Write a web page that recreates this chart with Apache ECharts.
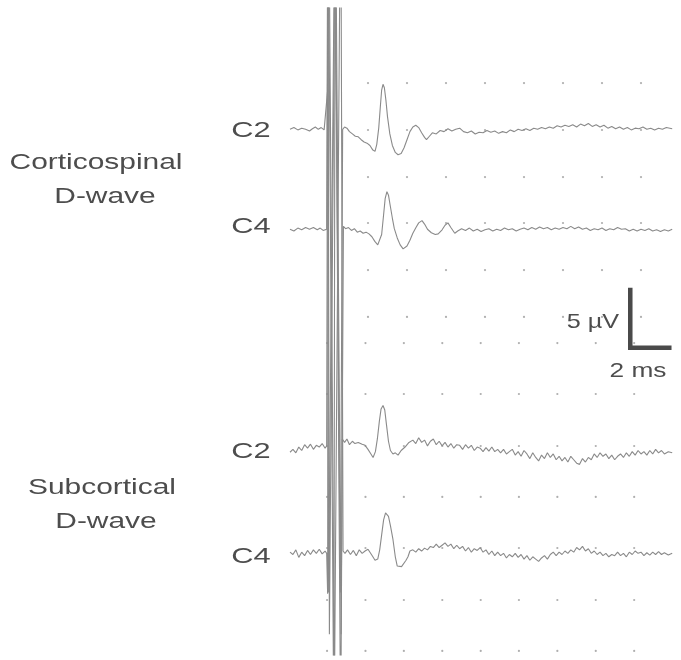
<!DOCTYPE html>
<html><head><meta charset="utf-8">
<script src="https://cdn.jsdelivr.net/npm/echarts@6/dist/echarts.min.js"></script>
<style>html,body{margin:0;padding:0;background:#fff}#c{width:681px;height:660px}</style>
</head><body><div id="c"></div>
<script>
// ---- DATA (time in ms relative to stimulus, amplitude in µV relative to each trace's baseline) ----
const traceNames = ['Corticospinal C2', 'Corticospinal C4', 'Subcortical C2', 'Subcortical C4'];
const corticoC2 = [[-2.0,0.1],[-1.8,0.25],[-1.6,0.05],[-1.4,0.2],[-1.2,0.1],[-1.0,-0.05],[-0.85,0.15],[-0.7,0.3],[-0.55,0.1],[-0.4,0.25],[-0.25,0.05],[-0.15,0.1],
[-0.08,3.3],[-0.02,-40],[0.3,20],[0.58,-40],[0.7,0.1],[0.8,0.3],[0.92,0.2],[1.05,-0.1],[1.2,-0.3],[1.35,-0.5],[1.5,-0.55],[1.65,-0.8],[1.8,-1.0],[1.95,-1.1],[2.1,-1.3],[2.25,-1.7],[2.36,-1.8],[2.45,-1.2],[2.55,0.2],[2.63,2.0],[2.7,3.5],[2.77,4.0],[2.84,3.7],[2.92,2.6],[3.0,1.2],[3.12,-0.3],[3.25,-1.3],[3.4,-1.9],[3.54,-2.1],[3.7,-2.0],[3.85,-1.5],[4.0,-0.8],[4.15,-0.1],[4.3,0.3],[4.45,0.45],[4.6,0.25],[4.75,-0.2],[4.9,-0.6],[5.0,-0.8],[5.15,-0.5],[5.3,-0.2],[5.5,-0.3],[5.7,0.0],[5.9,-0.1],[6.1,0.15],[6.3,-0.05],[6.5,0.1],[6.7,0.2],[6.9,-0.1],[7.1,-0.2],[7.3,-0.05],[7.5,-0.3],[7.7,-0.15],[7.9,-0.2],[8.1,0.0],[8.3,-0.15],[8.5,-0.05],[8.7,-0.25],[8.9,-0.1],[9.1,-0.2],[9.3,0.05],[9.5,-0.1],[9.7,0.1],[9.9,0.0],[10.1,0.15],[10.3,0.0],[10.5,0.2],[10.7,0.1],[10.9,0.25],[11.1,0.15],[11.3,0.3],[11.5,0.2],[11.7,0.4],[11.9,0.3],[12.1,0.45],[12.3,0.35],[12.5,0.5],[12.7,0.3],[12.9,0.55],[13.1,0.4],[13.3,0.6],[13.5,0.35],[13.7,0.5],[13.9,0.3],[14.1,0.45],[14.3,0.2],[14.5,0.35],[14.7,0.15],[14.9,0.3],[15.1,0.1],[15.3,0.25],[15.5,0.05],[15.7,0.2],[15.9,0.15],[16.1,0.3],[16.3,0.1],[16.5,0.2],[16.7,0.05],[16.9,0.2],[17.1,0.1],[17.3,0.25],[17.6,0.15]];
const corticoC4 = [[-2.0,0.05],[-1.8,-0.1],[-1.6,0.15],[-1.4,0.0],[-1.2,0.2],[-1.0,0.05],[-0.8,0.2],[-0.6,0.0],[-0.45,0.15],[-0.3,-0.05],[-0.12,0.05],
[-0.06,30],[0.02,-35],[0.33,30],[0.62,-35],[0.74,0.3],[0.85,0.1],[1.0,0.2],[1.15,-0.05],[1.3,0.1],[1.45,-0.2],[1.6,-0.1],[1.75,-0.3],[1.9,-0.2],[2.05,-0.35],[2.2,-0.6],[2.35,-1.0],[2.5,-1.3],[2.6,-1.4],[2.7,-0.4],[2.8,1.3],[2.88,2.7],[2.97,3.3],[3.05,3.0],[3.15,2.0],[3.25,1.0],[3.35,0.1],[3.5,-0.7],[3.65,-1.3],[3.8,-1.65],[3.9,-1.7],[4.0,-1.4],[4.15,-0.9],[4.3,-0.3],[4.46,0.2],[4.6,0.6],[4.77,0.8],[4.9,0.5],[5.05,0.05],[5.25,-0.25],[5.45,-0.4],[5.6,-0.35],[5.8,0.0],[5.95,0.4],[6.1,0.6],[6.25,0.2],[6.45,-0.3],[6.6,-0.1],[6.8,0.1],[7.0,-0.05],[7.2,0.15],[7.4,-0.1],[7.6,0.05],[7.8,-0.15],[8.0,0.0],[8.2,0.1],[8.4,-0.1],[8.6,0.05],[8.8,-0.05],[9.0,0.15],[9.2,0.0],[9.4,0.1],[9.6,-0.1],[9.8,0.05],[10.0,0.15],[10.2,0.0],[10.4,0.2],[10.6,0.05],[10.8,0.25],[11.0,0.1],[11.2,0.2],[11.4,0.0],[11.6,0.15],[11.8,0.05],[12.0,0.2],[12.2,0.1],[12.4,0.3],[12.6,0.1],[12.8,0.25],[13.0,0.05],[13.2,0.15],[13.4,-0.05],[13.6,0.1],[13.8,0.0],[14.0,0.15],[14.2,-0.05],[14.4,0.1],[14.6,0.0],[14.8,0.2],[15.0,0.05],[15.2,0.1],[15.4,-0.1],[15.6,0.05],[15.8,-0.1],[16.0,0.05],[16.2,-0.05],[16.4,0.1],[16.6,-0.1],[16.8,0.0],[17.0,-0.15],[17.2,0.0],[17.4,-0.1],[17.6,0.05]];
const subcortC2 = [[-2.0,-0.35],[-1.85,-0.1],[-1.7,-0.4],[-1.55,0.1],[-1.4,-0.2],[-1.25,0.3],[-1.1,0.0],[-0.95,0.35],[-0.8,-0.1],[-0.65,0.25],[-0.5,0.1],[-0.35,0.4],[-0.2,0.0],[-0.12,0.2],
[-0.05,50],[0.25,-25],[0.31,45],[0.6,-25],[0.68,0.8],[0.8,0.5],[0.92,0.8],[1.05,0.3],[1.2,0.6],[1.33,0.4],[1.5,0.5],[1.7,0.35],[1.85,0.25],[2.0,-0.1],[2.15,-0.5],[2.26,-0.8],[2.38,-0.3],[2.48,0.8],[2.58,2.3],[2.67,3.4],[2.77,3.7],[2.86,3.3],[2.95,2.0],[3.05,0.6],[3.15,-0.2],[3.28,-0.5],[3.4,-0.4],[3.54,-0.6],[3.7,-0.2],[3.9,0.1],[4.1,0.5],[4.3,0.7],[4.45,0.4],[4.6,0.9],[4.75,0.5],[4.9,0.7],[5.05,0.2],[5.2,0.6],[5.35,0.8],[5.5,0.3],[5.65,0.6],[5.8,0.2],[5.95,0.5],[6.1,0.1],[6.25,0.4],[6.4,0.0],[6.55,0.3],[6.7,0.25],[6.85,-0.1],[7.0,0.3],[7.15,0.0],[7.3,0.25],[7.45,-0.2],[7.6,0.1],[7.75,0.0],[7.9,-0.3],[8.05,0.05],[8.2,-0.25],[8.35,0.1],[8.5,-0.3],[8.65,-0.1],[8.8,-0.4],[8.95,-0.1],[9.1,-0.5],[9.25,-0.3],[9.4,-0.1],[9.55,-0.6],[9.7,-0.3],[9.85,-0.7],[10.0,-0.2],[10.15,-0.5],[10.3,-0.9],[10.45,-0.4],[10.6,-0.8],[10.75,-1.1],[10.9,-0.6],[11.05,-0.9],[11.2,-0.4],[11.35,-0.8],[11.5,-0.5],[11.65,-1.0],[11.8,-0.7],[11.95,-1.1],[12.1,-0.8],[12.25,-1.2],[12.4,-0.7],[12.55,-1.0],[12.7,-1.3],[12.85,-1.4],[13.0,-0.9],[13.15,-1.2],[13.3,-0.8],[13.45,-1.0],[13.6,-0.5],[13.75,-0.8],[13.9,-0.4],[14.05,-0.7],[14.2,-0.5],[14.35,-0.9],[14.5,-0.6],[14.65,-1.0],[14.8,-0.7],[14.95,-0.5],[15.1,-0.8],[15.25,-0.4],[15.4,-0.7],[15.55,-0.3],[15.7,-0.6],[15.85,-0.2],[16.0,-0.5],[16.15,-0.3],[16.3,-0.6],[16.45,-0.2],[16.6,-0.5],[16.75,-0.1],[16.9,-0.4],[17.05,-0.2],[17.2,-0.5],[17.4,-0.3],[17.6,-0.4]];
const subcortC4 = [[-2.0,0.1],[-1.85,-0.1],[-1.7,0.3],[-1.55,-0.35],[-1.4,0.1],[-1.25,-0.2],[-1.1,0.25],[-0.95,-0.1],[-0.8,0.3],[-0.65,0.0],[-0.5,0.35],[-0.35,-0.05],[-0.2,0.2],[-0.12,0.0],
[-0.07,-3.5],[-0.02,60],[0.28,-12],[0.6,60],[0.72,0.2],[0.82,0.0],[0.95,0.3],[1.1,-0.1],[1.25,0.25],[1.4,-0.2],[1.55,0.3],[1.7,0.0],[1.85,0.2],[2.0,0.35],[2.1,0.4],[2.25,-0.3],[2.36,-0.6],[2.5,-0.5],[2.6,0.3],[2.7,1.6],[2.8,2.9],[2.9,3.5],[2.97,3.6],[3.05,3.2],[3.15,2.4],[3.28,1.2],[3.4,-0.3],[3.5,-1.1],[3.6,-1.2],[3.72,-1.15],[3.82,-1.1],[3.95,-0.6],[4.05,-0.3],[4.15,0.2],[4.3,0.3],[4.45,0.1],[4.6,0.4],[4.75,0.2],[4.9,0.45],[5.05,0.3],[5.2,0.6],[5.35,0.5],[5.5,0.8],[5.65,0.5],[5.8,0.7],[5.95,0.9],[6.1,0.6],[6.25,0.8],[6.4,0.4],[6.55,0.7],[6.7,0.4],[6.85,0.6],[7.0,0.2],[7.15,0.5],[7.3,0.1],[7.45,0.4],[7.6,0.25],[7.75,0.5],[7.9,0.1],[8.05,0.3],[8.2,-0.1],[8.35,0.2],[8.5,-0.2],[8.65,0.1],[8.8,-0.2],[8.95,0.0],[9.1,-0.4],[9.25,-0.1],[9.4,-0.3],[9.55,0.0],[9.7,-0.35],[9.85,-0.1],[10.0,-0.5],[10.15,-0.2],[10.3,-0.6],[10.45,-0.3],[10.6,-0.5],[10.75,-0.7],[10.9,-0.4],[11.05,-0.2],[11.2,-0.5],[11.35,-0.1],[11.5,0.1],[11.65,-0.2],[11.8,0.1],[11.95,-0.1],[12.1,0.2],[12.25,0.0],[12.4,0.3],[12.55,0.1],[12.7,0.5],[12.85,0.3],[13.0,0.6],[13.15,0.2],[13.3,0.4],[13.45,0.0],[13.6,0.2],[13.75,-0.1],[13.9,0.1],[14.05,-0.2],[14.2,0.0],[14.35,-0.3],[14.5,-0.1],[14.65,-0.2],[14.8,0.1],[14.95,-0.2],[15.1,0.0],[15.25,-0.3],[15.4,0.1],[15.55,-0.1],[15.7,0.2],[15.85,0.0],[16.0,0.1],[16.15,-0.2],[16.3,0.05],[16.45,-0.15],[16.6,0.1],[16.75,-0.1],[16.9,0.15],[17.05,-0.1],[17.2,0.05],[17.4,-0.15],[17.6,0.0]];
// reference dot grid (ms, µV)
const topDotTimes = [2, 4, 6, 8, 10, 12, 14, 16];
const topDotLevels = [49.5, 45.44, 41.37, 37.39, 33.32, 29.26];
const bottomDotTimes = [-0.1, 1.87, 3.84, 5.81, 7.78, 9.74, 11.71, 13.68, 15.65];
const bottomDotLevels = [27.0, 22.59, 18.09, 13.68, 9.26, 4.76, 0.35];
// scale bar
const scaleBarAmplitude = 5;   // µV
const scaleBarDuration = 2;    // ms
const scaleBarLabels = ['5 \u00b5V', '2 ms'];
const channelLabels = ['C2', 'C4', 'C2', 'C4'];
const groupLabels = [['Corticospinal', 'D-wave'], ['Subcortical', 'D-wave']];

// ---- LAYOUT ----
const traceBaselines = [45.4, 36.8, 17.9, 8.8];
const scaleBarAnchor = [15.45, 26.6];
const FONT = '"Liberation Sans", Arial, Helvetica, sans-serif';
const TXT = '#4d4d4d';
const chart = echarts.init(document.getElementById('c'), null, {renderer: 'canvas'});

const traces = [corticoC2, corticoC4, subcortC2, subcortC4];
const series = traces.map((tr, i) => ({
  type: 'line', name: traceNames[i], showSymbol: false, clip: true, silent: true,
  data: tr.map(p => [p[0], p[1] + traceBaselines[i]]),
  lineStyle: {color: '#8a8a8a', width: 1.1}, z: 3
}));
const dots = [];
topDotLevels.forEach(v => topDotTimes.forEach(t => dots.push([t, v])));
bottomDotLevels.forEach(v => bottomDotTimes.forEach(t => dots.push([t, v])));
series.unshift({type: 'scatter', data: dots, symbolSize: 2.2, itemStyle: {color: '#9a9a9a'}, silent: true, z: 1});
const [ax, ay] = scaleBarAnchor;
series.push({type: 'line', data: [[ax, ay + scaleBarAmplitude], [ax, ay], [ax + scaleBarDuration, ay]],
  showSymbol: false, silent: true, lineStyle: {color: '#4a4a4a', width: 4.5, cap: 'square', join: 'miter'}, z: 4});

function txt(text, x, y, size, sx, align) {
  return {type: 'text', x: x, y: y, scaleX: sx, silent: true,
    style: {text: text, fontSize: size, fontFamily: FONT, fill: TXT, align: align || 'center', verticalAlign: 'middle'}};
}
const graphics = [
  txt(groupLabels[0][0], 96, 163, 22, 1.36),
  txt(groupLabels[0][1], 105, 197, 22, 1.36),
  txt(groupLabels[1][0], 102, 488, 22, 1.36),
  txt(groupLabels[1][1], 106, 522, 22, 1.36),
  txt(channelLabels[0], 251, 131, 22, 1.4),
  txt(channelLabels[1], 251, 227, 22, 1.4),
  txt(channelLabels[2], 251, 452, 22, 1.4),
  txt(channelLabels[3], 251, 557, 22, 1.4),
  txt(scaleBarLabels[0], 619, 322, 21, 1.2, 'right'),
  txt(scaleBarLabels[1], 638, 371, 21, 1.25)
];

chart.setOption({
  animation: false,
  backgroundColor: '#ffffff',
  grid: {left: 290, right: 1, top: 8, bottom: 5},
  xAxis: {type: 'value', min: -2, max: 18, show: false},
  yAxis: {type: 'value', min: 0, max: 56, show: false},
  series: series,
  graphic: graphics
});
</script></body></html>
